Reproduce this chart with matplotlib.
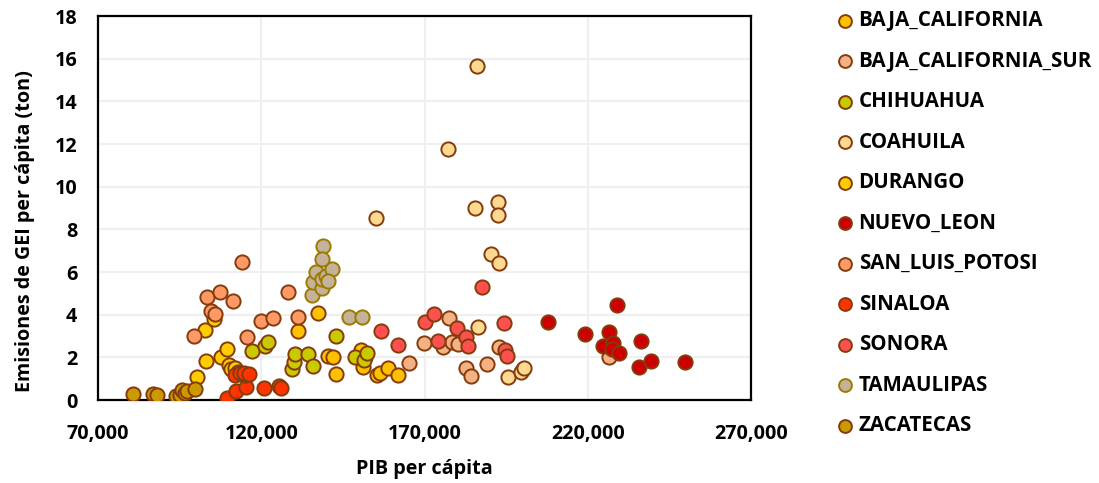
import matplotlib
matplotlib.use("Agg")
import matplotlib.pyplot as plt
from matplotlib.ticker import FuncFormatter

plt.rcParams['font.family'] = ['Open Sans', 'DejaVu Sans']

series_names = ["BAJA_CALIFORNIA", "BAJA_CALIFORNIA_SUR", "CHIHUAHUA", "COAHUILA",
                "DURANGO", "NUEVO_LEON", "SAN_LUIS_POTOSI", "SINALOA", "SONORA",
                "TAMAULIPAS", "ZACATECAS"]

baja_california_x = [131300, 137400, 140300, 142000, 142900, 150700, 151700, 151200, 155300, 156300, 158700, 161900]
baja_california_y = [3.25, 4.09, 2.06, 2.00, 1.22, 2.34, 2.03, 1.56, 1.17, 1.28, 1.52, 1.17]

bcs_x = [165200, 169800, 175700, 177500, 178300, 180300, 182700, 184100, 189000, 192900, 200200, 226600]
bcs_y = [1.72, 2.69, 2.50, 3.83, 2.73, 2.61, 1.51, 1.12, 1.69, 2.47, 1.44, 2.03]

chihuahua_x = [117200, 121000, 122000, 129500, 130100, 130300, 134200, 135900, 142900, 148700, 151400, 152300]
chihuahua_y = [2.30, 2.53, 2.73, 1.44, 1.77, 2.16, 2.16, 1.59, 3.01, 2.03, 1.88, 2.19]

coahuila_x = [155000, 177100, 185600, 186200, 186400, 190300, 192400, 192600, 192800, 195600, 199700, 200400]
coahuila_y = [8.55, 11.77, 8.99, 15.66, 3.41, 6.83, 9.27, 8.67, 6.41, 1.06, 1.30, 1.49]

durango_x = [100300, 102700, 103000, 105600, 107800, 109600, 110100, 110600, 112000, 112900]
durango_y = [1.06, 3.28, 1.84, 3.80, 2.03, 2.38, 1.64, 1.44, 1.49, 1.33]

nuevo_leon_x = [207900, 219300, 224700, 226600, 227600, 227400, 229000, 229500, 235700, 236200, 239500, 249900]
nuevo_leon_y = [3.67, 3.08, 2.53, 3.20, 2.69, 2.40, 4.45, 2.19, 1.56, 2.78, 1.83, 1.78]

slp_x = [99300, 103400, 104700, 105700, 107500, 111300, 114100, 115700, 120000, 123700, 128300, 131300]
slp_y = [3.01, 4.81, 4.19, 4.03, 5.05, 4.66, 6.47, 2.94, 3.70, 3.84, 5.08, 3.88]

sinaloa_x = [109600, 112300, 115200, 112000, 113400, 114900, 114600, 116300, 120700, 125400, 126200]
sinaloa_y = [0.08, 0.44, 0.62, 1.17, 1.25, 1.17, 1.28, 1.20, 0.55, 0.66, 0.58]

sonora_x = [156700, 161800, 170100, 172900, 174000, 180100, 182700, 183400, 187500, 194300, 194800, 195400]
sonora_y = [3.25, 2.58, 3.67, 4.03, 2.77, 3.39, 2.97, 2.53, 5.28, 3.60, 2.34, 2.08]

tamaulipas_x = [135400, 135900, 136800, 138500, 138500, 139800, 141800, 138800, 138500, 140500, 146900, 150900]
tamaulipas_y = [4.92, 5.52, 6.01, 5.24, 5.67, 5.81, 6.14, 7.22, 6.60, 5.60, 3.88, 3.88]

zacatecas_x = [80600, 86700, 88200, 94000, 95000, 95700, 96500, 97200, 99800]
zacatecas_y = [0.27, 0.28, 0.24, 0.20, 0.25, 0.45, 0.35, 0.40, 0.50]

xs = [baja_california_x, bcs_x, chihuahua_x, coahuila_x, durango_x, nuevo_leon_x,
      slp_x, sinaloa_x, sonora_x, tamaulipas_x, zacatecas_x]
ys = [baja_california_y, bcs_y, chihuahua_y, coahuila_y, durango_y, nuevo_leon_y,
      slp_y, sinaloa_y, sonora_y, tamaulipas_y, zacatecas_y]

face_colors = ["#FFC000", "#F4B183", "#C9C900", "#FFD990", "#FFCC00", "#CC0000",
               "#FF9966", "#FF3300", "#FF5050", "#C4B39A", "#CC9900"]
edge_colors = ["#843C0C"] * 9 + ["#9C7A00", "#843C0C"]

FS = 14.2
W, H = 1099, 483

fig = plt.figure(figsize=(W / 100, H / 100), dpi=100)
ax = fig.add_axes([98 / W, 83 / H, (751 - 98) / W, (400 - 16) / H])

for name, x, y, fc, ec in zip(series_names, xs, ys, face_colors, edge_colors):
    ax.scatter(x, y, s=105, c=fc, edgecolors=ec, linewidths=1.4, label=name, zorder=3)

ax.set_xlim(70000, 270000)
ax.set_ylim(0, 18)
ax.set_xticks([70000, 120000, 170000, 220000, 270000])
ax.set_yticks(range(0, 19, 2))
ax.xaxis.set_major_formatter(FuncFormatter(lambda v, p: f"{int(v):,}"))
ax.grid(True, color="#EFEFEF", linewidth=1.5, zorder=0)
ax.set_axisbelow(True)
for sp in ax.spines.values():
    sp.set_color("black")
    sp.set_linewidth(1.6)
ax.tick_params(axis="y", length=0, labelsize=FS, pad=15)
ax.tick_params(axis="x", length=0, labelsize=FS, pad=17)
for lbl in ax.get_xticklabels() + ax.get_yticklabels():
    lbl.set_fontweight("bold")

ax.set_xlabel("PIB per cápita", fontsize=FS, fontweight="bold")
ax.set_ylabel("Emisiones de GEI per cápita (ton)", fontsize=FS, fontweight="bold")
ax.xaxis.set_label_coords(424 / W, 1 - 459 / H, transform=fig.transFigure)
ax.yaxis.set_label_coords(35 / W, 1 - 231 / H, transform=fig.transFigure)

leg = fig.legend(loc="upper left", bbox_to_anchor=(837 / W, 1 - 10 / H), frameon=False,
                 prop={"size": 14.8, "weight": "bold"}, labelspacing=0.95,
                 handlelength=0.8, handletextpad=0.25, markerscale=0.9,
                 borderpad=0, borderaxespad=0)

fig.savefig("out.png", dpi=100)
